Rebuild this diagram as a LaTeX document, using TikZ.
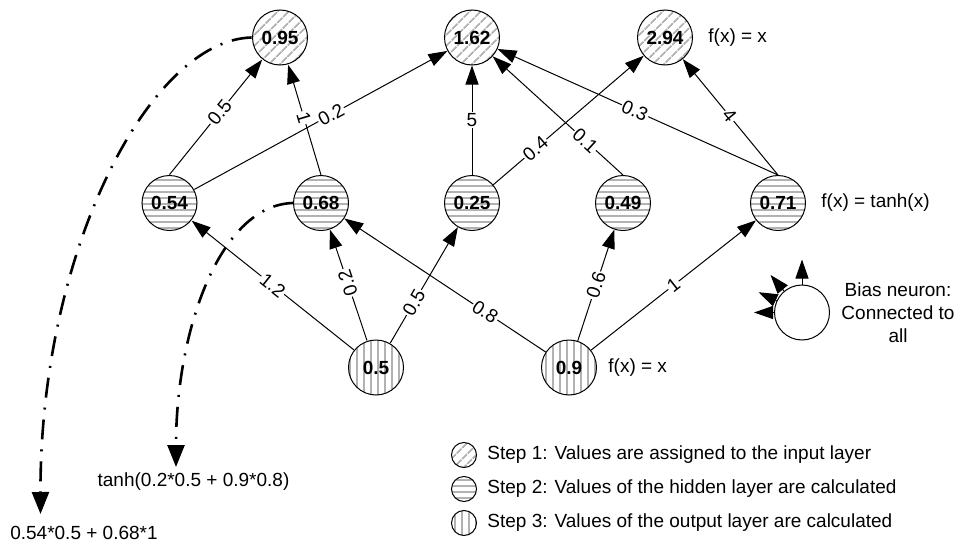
\documentclass[tikz,border=0pt]{standalone}
\usepackage{fontspec}
\setmainfont{Liberation Sans}
\usetikzlibrary{arrows.meta,patterns.meta}
\tikzset{
	neuron/.style={circle,draw=black,line width=0.5pt,minimum size=27.5pt,inner sep=0pt,
		font=\fontsize{9.5}{11.5}\selectfont\bfseries},
	outpat/.style={pattern={Lines[angle=45,distance=4pt,line width=0.9pt]},pattern color=black!30},
	hidpat/.style={pattern={Lines[angle=0,distance=3pt,line width=0.9pt]},pattern color=black!30},
	inpat/.style={pattern={Lines[angle=90,distance=3.5pt,line width=0.9pt]},pattern color=black!30},
	outn/.style={neuron,outpat},
	hidn/.style={neuron,hidpat},
	inn/.style={neuron,inpat},
	conn/.style={draw=black,line width=0.5pt,-{Triangle[length=9.5pt,width=6.5pt]}},
	w/.style={fill=white,inner sep=0.6pt},
	wl/.style={w,sloped},
	derive/.style={line width=1.3pt,dash pattern=on 10pt off 5pt on 1pt off 5pt,
		-{Triangle[length=11pt,width=8.5pt]}},
	legend/.style={circle,draw=black,line width=0.5pt,minimum size=12.5pt,inner sep=0pt},
	txt/.style={anchor=west,inner sep=0pt},
}

\begin{document}
\begin{tikzpicture}[x=0.5pt,y=-0.5pt,font=\fontsize{9.5}{11.5}\selectfont]
	\useasboundingbox (0,0) rectangle (959,546);
	% layers
	\node[outn] (out1) at (280,37.5) {0.95};
	\node[outn] (out2) at (472,37.5) {1.62};
	\node[outn] (out3) at (665,37.5) {2.94};
	\node[hidn] (hid1) at (169.5,203) {0.54};
	\node[hidn] (hid2) at (321,203) {0.68};
	\node[hidn] (hid3) at (472,203) {0.25};
	\node[hidn] (hid4) at (623,203) {0.49};
	\node[hidn] (hid5) at (778,203) {0.71};
	\node[inn] (in1) at (376,367.5) {0.5};
	\node[inn] (in2) at (569,367.5) {0.9};
	\node[neuron] (bias) at (802,312.5) {};
	% input -> hidden
	\foreach \s/\t/\p/\v in {in1/hid1/0.5/1.2,in1/hid3/0.35/0.5,in2/hid2/0.3/0.8,in2/hid4/0.5/0.6,in2/hid5/0.5/1}
	\draw[conn] (\s) -- node[wl,pos=\p] {\v} (\t);
	\draw[conn] (in1) -- node[wl,allow upside down,pos=0.52] {0.2} (hid2);
	% hidden -> output
	\foreach \s/\t/\p/\v in {hid1.north/out1/0.54/0.5,hid2.north/out1/0.52/1,hid1/out2/0.54/0.2,hid3/out3/0.28/0.4,
		hid4.north/out2/0.29/0.1,hid5.north/out2/0.51/0.3,hid5.north/out3/0.51/4}
	\draw[conn] (\s) -- node[wl,pos=\p] {\v} (\t);
	\draw[conn] (hid3.north) -- node[w,pos=0.5] {5} (out2);
	% bias neuron
	\foreach \a/\l in {90/12.5pt,130/10.5pt,155/10pt,180/10pt}{
		\coordinate (bt\a) at ([shift={(\a:\l)}]bias.\a);
		\draw[conn] (bias.\a) -- (bt\a);
	}
	\node[align=center] (biastext) at (898,312.5) {Bias neuron:\\Connected to\\all};
	% activation functions
	\node[txt] (fout) at (708,37.5) {f(x) = x};
	\node[txt] (fhid) at (821,203) {f(x) = tanh(x)};
	\node[txt] (fin) at (608,367.5) {f(x) = x};
	% worked sums
	\node (suma) at (84,533) {0.54*0.5 + 0.68*1};
	\node (sumb) at (193.5,482) {tanh(0.2*0.5 + 0.9*0.8)};
	\coordinate (tipa) at (40.5,514);
	\coordinate (tipb) at (176,467);
	\draw[derive] (out1.west) .. controls (150,40) and (40,250) .. (tipa);
	\draw[derive] (hid2.west) .. controls (220,205) and (176,330) .. (tipb);
	% legend
	\foreach \i/\st/\y/\t in {1/outpat/455/Step 1: Values are assigned to the input layer,
		2/hidpat/489/Step 2: Values of the hidden layer are calculated,
		3/inpat/523/Step 3: Values of the output layer are calculated}{
		\node[legend,\st] (leg\i) at (464,\y) {};
		\node[txt] (legtext\i) at (487,\y) {\t};
	}
\end{tikzpicture}
\end{document}
